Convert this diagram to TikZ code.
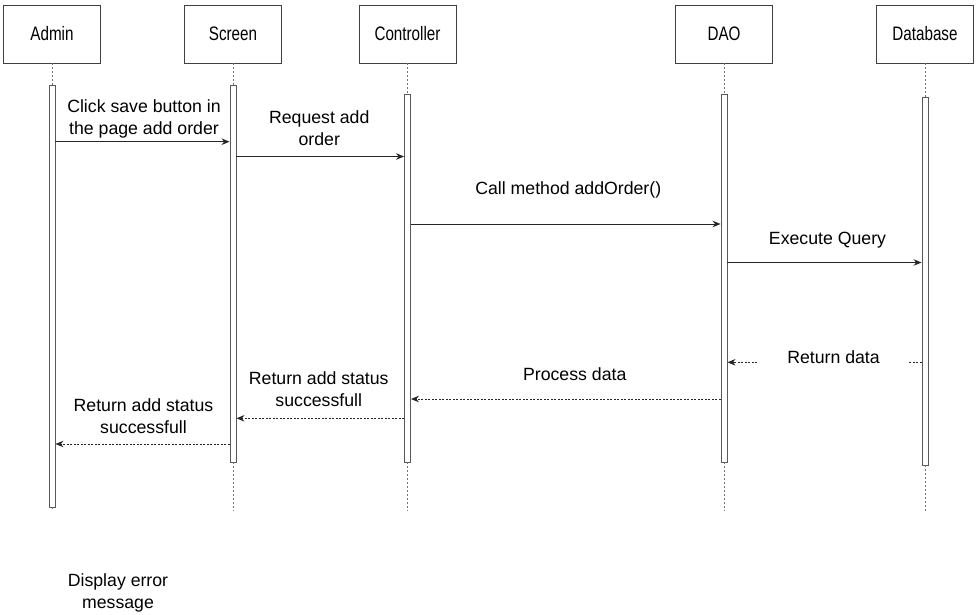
\documentclass[tikz,border=0pt]{standalone}
\usepackage{fontspec}
\setmainfont{Liberation Sans}
\newfontfamily\headfont[FakeStretch=0.78]{Liberation Sans}
\usetikzlibrary{arrows.meta}

\begin{document}
\begin{tikzpicture}
        [x=1pt, y=-1pt,
         actor/.style={draw=black!75, line width=0.9pt, minimum width=97pt, minimum height=58pt,
                       inner sep=0pt, font=\headfont\fontsize{19.5}{22}\selectfont},
         bar/.style={draw=black!65, line width=0.9pt, fill=white, minimum width=6pt, inner sep=0pt},
         life/.style={draw=black!55, line width=0.8pt, dash pattern=on 2pt off 2pt},
         call/.style={draw=black!85, line width=0.9pt, -{Stealth[length=8pt, width=6.5pt]}},
         reply/.style={call, dash pattern=on 2pt off 1.5pt},
         lbl/.style={font=\fontsize{17.7}{22}\selectfont, align=center, inner sep=0pt}]
        \useasboundingbox (0,0) rectangle (977,614);

        % participants
        \node[actor] (admin) at (52,34) {Admin};
        \node[actor] (screen) at (233,34) {Screen};
        \node[actor] (ctrl) at (407.5,34) {Controller};
        \node[actor] (dao) at (724,34) {DAO};
        \node[actor] (db) at (925,34) {Database};

        % activation bars
        \node[bar, minimum height=422pt] (adminbar) at (52,296) {};
        \node[bar, minimum height=377pt] (screenbar) at (233,273.5) {};
        \node[bar, minimum height=368pt] (ctrlbar) at (407.5,278) {};
        \node[bar, minimum height=368pt] (daobar) at (724,278) {};
        \node[bar, minimum height=368pt] (dbbar) at (925,281) {};

        \coordinate (lend) at (0,511);
        \foreach \p/\b in {admin/adminbar, screen/screenbar, ctrl/ctrlbar, dao/daobar, db/dbbar} {
            \draw[life] (\p.south) -- (\b.north);
            \draw[life] (\b.south) -- (\b.south |- lend);
        }

        % message heights
        \coordinate (m1) at (0,141.7);
        \coordinate (m2) at (0,156.5);
        \coordinate (m3) at (0,224);
        \coordinate (m4) at (0,262.5);
        \coordinate (m5) at (0,362.3);
        \coordinate (m6) at (0,399);
        \coordinate (m7) at (0,418.3);
        \coordinate (m8) at (0,444);

        \draw[call] (adminbar.east |- m1) -- (screenbar.west |- m1)
            node[lbl, midway, xshift=1.5pt, yshift=23pt] {Click save button in\\the page add order};
        \draw[call] (screenbar.east |- m2) -- (ctrlbar.west |- m2)
            node[lbl, midway, xshift=-1pt, yshift=28.5pt] {Request add\\order};
        \draw[call] (ctrlbar.east |- m3) -- (daobar.west |- m3)
            node[lbl, midway, xshift=2.5pt, yshift=34.5pt] {Call method addOrder()};
        \draw[call] (daobar.east |- m4) -- (dbbar.west |- m4)
            node[lbl, midway, xshift=3pt, yshift=22.5pt] {Execute Query};
        \draw[reply] (dbbar.west |- m5) -- (daobar.east |- m5)
            node[lbl, midway, xshift=9pt, yshift=5pt, fill=white, inner xsep=28pt, inner ysep=3pt] {Return data};
        \draw[reply] (daobar.west |- m6) -- (ctrlbar.east |- m6)
            node[lbl, midway, xshift=9pt, yshift=25pt] {Process data};
        \draw[reply] (ctrlbar.west |- m7) -- (screenbar.east |- m7)
            node[lbl, midway, xshift=-1.5pt, yshift=29.5pt] {Return add status\\successfull};
        \draw[reply] (screenbar.west |- m8) -- (adminbar.east |- m8)
            node[lbl, midway, xshift=1pt, yshift=28pt] {Return add status\\successfull};

        \node[lbl] (err) at (118,593) {Display error\\message};
    \end{tikzpicture}
\end{document}
